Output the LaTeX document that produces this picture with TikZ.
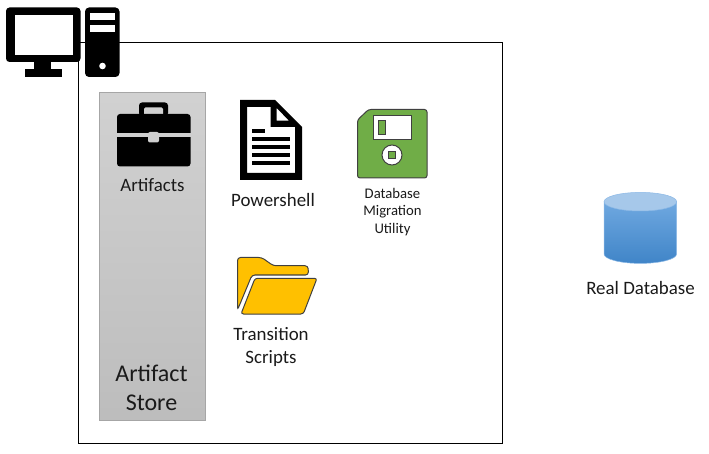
\documentclass[tikz,border=0pt]{standalone}
\usepackage{fontspec}
\setmainfont{Carlito}
\definecolor{inktext}{HTML}{1A1A1A}
\definecolor{floppygreen}{HTML}{70AD47}
\definecolor{folderyellow}{HTML}{FFC000}
\definecolor{darkline}{HTML}{404040}
\definecolor{dbtop}{HTML}{6FA8E0}
\definecolor{dbbot}{HTML}{4085C8}
\definecolor{dbcap}{HTML}{A6C8EA}
\tikzset{
  lbl/.style={text=inktext,align=center,inner sep=0pt},
  lblA/.style={lbl,font=\fontsize{18.9}{23}\selectfont},
  lblB/.style={lbl,font=\fontsize{14.7}{17.7}\selectfont},
  lblC/.style={lbl,font=\fontsize{24}{29}\selectfont},
  blk/.style={fill=black,draw=none},
  wht/.style={fill=white,draw=none},
  iconline/.style={draw=darkline,line width=1pt},
}
\begin{document}
\begin{tikzpicture}[x=1pt,y=-1pt]
\useasboundingbox (0,0) rectangle (709,454);
% main box
\draw[black,line width=1pt] (78.5,43) rectangle (502,443);
% store
\path[draw=black!35,line width=1pt,top color=black!18,bottom color=black!26] (99.5,92.5) rectangle (205.5,420);
% monitor
\fill[blk,rounded corners=3.5pt] (6,7.5) rectangle (80.5,62);
\fill[wht] (15,15) rectangle (73,55);
\fill[blk] (34,62) rectangle (51,70);
\fill[blk] (25,69) rectangle (62,77);
% tower
\fill[blk,rounded corners=4pt] (85,7.5) rectangle (119.5,77);
\fill[wht] (90,13) rectangle (115,20);
\fill[wht] (90,25) rectangle (115,32.5);
\fill[wht] (102.5,66) circle[radius=3.3];
% briefcase
\fill[blk,rounded corners=3pt] (139,116) -- (139,102.5) -- (168,102.5) -- (168,116) -- cycle;
\fill[fill=black!18,rounded corners=1.5pt] (144,116) -- (144,107.5) -- (163,107.5) -- (163,116) -- cycle;
\fill[blk,rounded corners=3pt] (117,114) rectangle (190.5,166.5);
\fill[fill=black!19] (117,133.5) rectangle (190.5,137.5);
\fill[fill=black!19,rounded corners=2pt] (148,132) -- (159,132) -- (159,142.5) -- (148,142.5) -- cycle;
% document
\fill[blk,even odd rule] (240,100) -- (275,100) -- (302,127) -- (302,180) -- (240,180) -- cycle
  (247,107) -- (270.5,107) -- (270.5,127) -- (295,127) -- (295,173) -- (247,173) -- cycle
  (276.7,108) -- (276.7,120.7) -- (289,120.7) -- cycle;
\fill[blk] (252,129) rectangle (265,132.7);
\foreach \yy in {137,145,153,161} \fill[blk] (252,\yy) rectangle (290,\yy+3.7);
% floppy
\path[fill=floppygreen,iconline,rounded corners=2.5pt] (357.5,120) -- (368.5,109.5) -- (427,109.5) -- (427,178) -- (357.5,178) -- cycle;
\path[fill=white,iconline] (373.5,115.7) rectangle (411,139.3);
\path[fill=floppygreen,iconline] (378,120.5) rectangle (385,135);
\path[fill=white,iconline] (392,155) circle[radius=10];
\path[fill=floppygreen,iconline] (388.7,151.7) rectangle (395.3,158.3);
% folder
\path[fill=folderyellow,iconline,rounded corners=3pt] (237.5,310) -- (237.5,257.5) -- (261.7,257.5) -- (273.3,265.7) -- (308,265.7) -- (308.5,275) -- (252,275) -- cycle;
\path[fill=folderyellow,iconline,rounded corners=2.5pt] (241,314) -- (255,278.3) -- (317,278.3) -- (303.3,314) -- cycle;
% database
\path[top color=dbtop,bottom color=dbbot,draw=dbtop!80!white,line width=.5pt] (604,201.7) -- (604,254) arc[x radius=36.3,y radius=9.4,start angle=180,end angle=0] -- (676.7,201.7) -- cycle;
\path[fill=dbcap,draw=dbtop!80!white,line width=.5pt] (640.35,201.7) ellipse[x radius=36.3,y radius=9.3];
% labels
\node[lblA] (artifacts) at (152.5,185.5) {Artifacts};
\node[lblA] (powershell) at (273,200) {Powershell};
\node[lblB] (utility) at (392.5,212) {Database\\Migration\\Utility};
\node[lblA] (scripts) at (271,346.5) {Transition\\Scripts};
\node[lblA] (realdb) at (640.5,288) {Real Database};
\node[lblC] (store) at (151.5,387.5) {Artifact\\Store};
\end{tikzpicture}
\end{document}
